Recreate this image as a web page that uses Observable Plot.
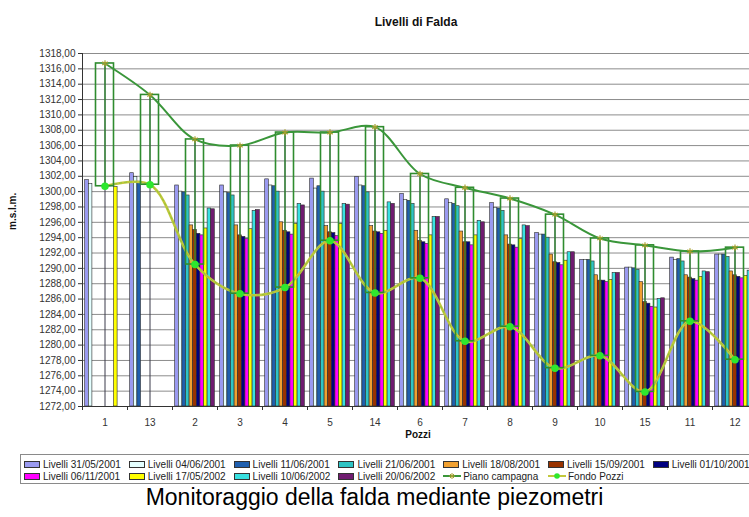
<!DOCTYPE html>
<html><head><meta charset="utf-8">
<script src="https://cdn.jsdelivr.net/npm/d3@7"></script>
<script src="https://cdn.jsdelivr.net/npm/@observablehq/plot@0.6"></script>
<style>
body{margin:0;background:#fff;font-family:"Liberation Sans",Arial,sans-serif;}
#wrap{position:relative;width:749px;height:517px;overflow:hidden;background:#fff;}
#chart{position:absolute;left:0;top:0;width:760px;}
#chart svg{max-width:none !important;width:760px;height:446px;}
#legend{position:absolute;left:20px;top:454px;width:740px;height:30px;border:1px solid #8a8a8a;box-sizing:border-box;}
.item{position:absolute;font-size:10px;color:#222;white-space:nowrap;display:flex;align-items:center;height:12px;}
.sw{display:inline-block;width:14px;height:5px;border:1px solid #333;margin-right:3px;}
#caption{position:absolute;left:0;top:484px;width:749px;text-align:center;font-size:23px;color:#000;}
</style></head>
<body><div id="wrap"><div id="chart"></div><div id="legend"></div><div id="caption">Monitoraggio della falda mediante piezometri</div></div>
<script>
// ---- data ----
const categories = ["1","13","2","3","4","5","14","6","7","8","9","10","15","11","12"];
const seriesNames = ["Livelli 31/05/2001","Livelli 04/06/2001","Livelli 11/06/2001","Livelli 21/06/2001","Livelli 18/08/2001","Livelli 15/09/2001","Livelli 01/10/2001","Livelli 06/11/2001","Livelli 17/05/2002","Livelli 10/06/2002","Livelli 20/06/2002"];
const seriesColors = ["#9a9af0","#e4ffff","#1f5fae","#2fc4c4","#f0a030","#993300","#000080","#ff00ff","#ffff00","#38e0e0","#701c70"];
const liv_310501 = [1301.5,1302.4,1300.8,1300.8,1301.6,1301.7,1301.9,1299.7,1299.0,1298.5,1294.6,1291.1,1290.1,1291.4,1291.8];
const liv_040601 = [1301.0,1301.9,1300.0,1299.9,1300.8,1300.4,1300.8,1298.9,1298.5,1297.9,1294.4,1291.1,1290.1,1291.1,1291.8];
const liv_110601 = [null,1301.3,1299.9,1299.8,1300.7,1300.7,1300.7,1298.8,1298.4,1297.8,1294.4,1291.1,1290.0,1291.2,1291.8];
const liv_210601 = [null,null,1299.5,1299.5,1300.0,1300.0,1299.9,1298.4,1298.1,1297.5,1294.0,1290.9,1289.8,1290.9,1291.5];
const liv_180801 = [null,null,1295.6,1295.6,1296.0,1295.5,1295.5,1294.9,1294.8,1294.3,1291.8,1289.1,1288.2,1289.1,1289.6];
const liv_150901 = [null,null,1295.0,1294.3,1294.9,1294.7,1294.8,1293.6,1293.4,1293.1,1290.8,1288.4,1285.6,1288.8,1289.1];
const liv_011001 = [null,null,1294.5,1294.1,1294.7,1294.6,1294.7,1293.4,1293.4,1293.0,1290.7,1288.4,1285.4,1288.6,1288.9];
const liv_061101 = [null,null,1294.3,1293.8,1294.4,1294.2,1294.5,1293.2,1293.0,1292.7,1290.4,1288.2,1285.0,1288.4,1288.7];
const liv_170502 = [1300.6,null,1295.2,1295.1,1295.8,1295.8,1294.9,1294.3,1294.3,1293.8,1291.0,1288.5,1284.9,1288.9,1289.0];
const liv_100602 = [null,null,1297.8,1297.5,1298.4,1298.4,1298.6,1296.7,1296.2,1295.6,1292.1,1289.4,1286.0,1289.6,1289.7];
const liv_200602 = [null,null,1297.7,1297.6,1298.2,1298.3,1298.4,1296.7,1296.0,1295.5,1292.1,1289.4,1286.1,1289.5,1289.5];
const pianoCampagna = [1316.7,1312.6,1306.8,1306.0,1307.7,1307.7,1308.4,1302.3,1300.5,1299.1,1297.0,1293.9,1293.0,1292.2,1292.7];
const fondoPozzi = [1300.7,1300.9,1290.5,1286.7,1287.5,1293.6,1286.8,1288.7,1280.5,1282.4,1277.0,1278.6,1273.9,1283.1,1278.1];
const yTicks = d3.range(1272, 1319, 2);

const seriesValues = [liv_310501,liv_040601,liv_110601,liv_210601,liv_180801,liv_150901,liv_011001,liv_061101,liv_170502,liv_100602,liv_200602];

// ---- derived tables ----
const nS = seriesNames.length;
const gap = 0.06, bw = (1 - 2*gap) / nS;
const bars = [];
seriesValues.forEach((vals, k) => vals.forEach((v, i) => {
  if (v != null) bars.push({series: seriesNames[k], x1: i + gap + k*bw, x2: i + gap + (k+1)*bw, v});
}));
const pts = categories.map((c, i) => ({cat: c, x: i + 0.5, piano: pianoCampagna[i], fondo: fondoPozzi[i]}));
const yMin = 1272, yMax = 1318;
const fmt = d => d.toFixed(2).replace(".", ",");

const plot = Plot.plot({
  width: 760, height: 446,
  marginLeft: 82, marginRight: 3, marginTop: 53, marginBottom: 40,
  style: {fontFamily: "'Liberation Sans', Arial, sans-serif", fontSize: "10px", color: "#333", background: "transparent"},
  x: {type: "linear", domain: [0, categories.length]},
  y: {domain: [yMin, yMax]},
  color: {domain: seriesNames, range: seriesColors},
  marks: [
    Plot.gridY(yTicks, {stroke: "#8c8c8c", strokeOpacity: 1, strokeWidth: 1}),
    Plot.ruleX(pts, {x: "x", y1: yMin, y2: "piano", stroke: "#3a3a4a", strokeWidth: 1}),
    Plot.rect(bars, {x1: "x1", x2: "x2", y1: yMin, y2: "v", fill: "series", stroke: "#2a2a2a", strokeWidth: 0.6}),
    Plot.line(pts, {x: "x", y: "fondo", curve: "catmull-rom", stroke: "#c2c83c", strokeWidth: 2.6}),
    Plot.line(pts, {x: "x", y: "fondo", curve: "catmull-rom", stroke: "#8fc43a", strokeWidth: 1, strokeDasharray: "2,3"}),
    Plot.rect(pts, {x1: d => d.x - 0.2, x2: d => d.x + 0.2, y1: "fondo", y2: "piano", fill: "none", stroke: "#2f8c2f", strokeWidth: 1.6}),
    Plot.ruleX(pts, {x: "x", y1: "fondo", y2: "piano", stroke: "#2f8c2f", strokeWidth: 1.3}),
    Plot.line(pts, {x: "x", y: "piano", curve: "catmull-rom", stroke: "#3a963a", strokeWidth: 2}),
    Plot.dot(pts, {x: "x", y: "piano", symbol: "asterisk", r: 3, stroke: "#a8a030", strokeWidth: 1.2}),
    Plot.dot(pts, {x: "x", y: "fondo", symbol: "circle", r: 3, fill: "#2ee82e", stroke: "#2ee82e"}),
    Plot.ruleY([yMin], {stroke: "#333"}),
    Plot.ruleX([0], {stroke: "#333"}),
    Plot.axisY({ticks: yTicks, tickFormat: fmt, tickSize: 4, tickPadding: 3, label: null, stroke: "#333"}),
    Plot.axisX({ticks: d3.range(categories.length + 1), tickFormat: () => "", tickSize: 4, label: null, stroke: "#333"}),
    Plot.axisX({ticks: pts.map(d => d.x), tickFormat: d => categories[Math.floor(d)], tickSize: 0, tickPadding: 12, label: null}),
    Plot.text(["Livelli di Falda"], {frameAnchor: "top", dy: -36, dx: -4, fontWeight: "bold", fontSize: 12, fill: "#111"}),
    Plot.text(["Pozzi"], {frameAnchor: "bottom", dy: 31, dx: -2, fontWeight: "bold", fontSize: 10, fill: "#111"}),
    Plot.text(["m.s.l.m."], {frameAnchor: "left", dx: -70, dy: 0, rotate: -90, fontWeight: "bold", fontSize: 10, fill: "#111"})
  ]
});
document.getElementById("chart").appendChild(plot);

// ---- legend ----
const legend = document.getElementById("legend");
const legendItems = seriesNames.map((n, k) => ({name: n, type: "bar", color: seriesColors[k]}))
  .concat([{name: "Piano campagna", type: "piano"}, {name: "Fondo Pozzi", type: "fondo"}]);
legendItems.forEach((it, j) => {
  const row = Math.floor(j / 7), col = j % 7;
  const el = document.createElement("div");
  el.className = "item";
  el.style.left = (3 + col * 104.8) + "px";
  el.style.top = (3 + row * 12) + "px";
  let sw;
  if (it.type === "bar") {
    sw = `<span class="sw" style="background:${it.color}"></span>`;
  } else if (it.type === "piano") {
    sw = `<svg width="18" height="8" style="margin-right:2px"><line x1="0" y1="4" x2="18" y2="4" stroke="#3a963a" stroke-width="2"/><path d="M9,1V7M6,4H12M7,2L11,6M11,2L7,6" stroke="#a8a030" stroke-width="1"/></svg>`;
  } else {
    sw = `<svg width="18" height="8" style="margin-right:2px"><line x1="0" y1="4" x2="18" y2="4" stroke="#c2c83c" stroke-width="2"/><circle cx="9" cy="4" r="2.8" fill="#2ee82e"/></svg>`;
  }
  el.innerHTML = sw + `<span>${it.name}</span>`;
  legend.appendChild(el);
});
</script>
</body></html>
